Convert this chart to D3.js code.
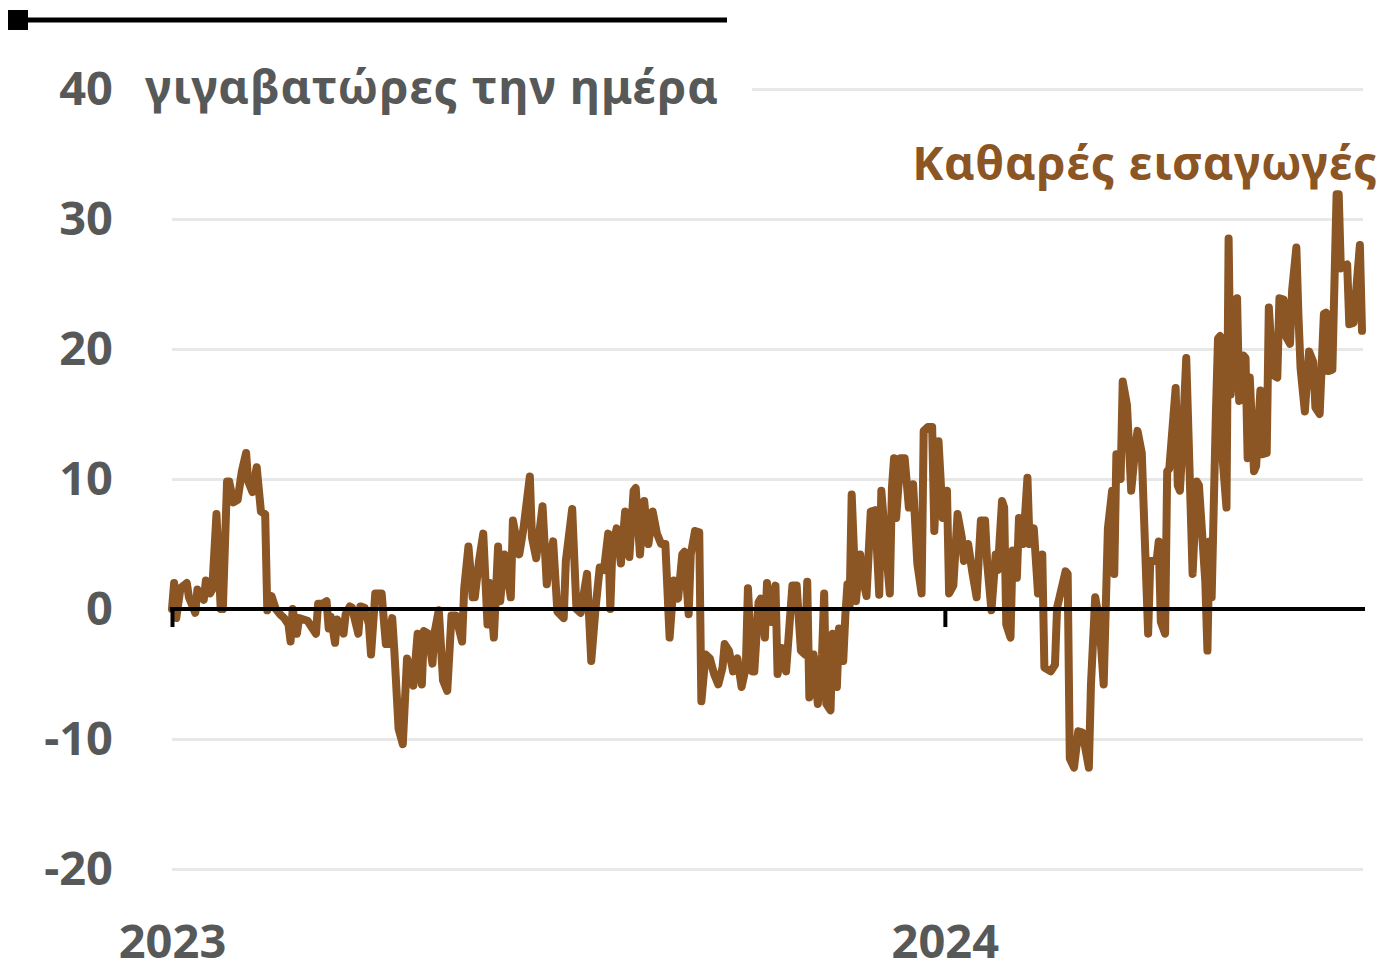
<!DOCTYPE html>
<html>
<head>
<meta charset="utf-8">
<script src="https://cdn.jsdelivr.net/npm/d3@7"></script>
<style>
  body { margin: 0; background: #fff; }
  svg text { font-family: "Noto Sans", "DejaVu Sans", sans-serif; font-weight: 700; }
</style>
</head>
<body>
<div id="chart"></div>
<script>
// net imports, GWh per day, days counted from 1 Jan 2023
var days = [
  0,1,2,4,7,8,11,12,15,16,18,19,21,23,24,
  26,27,29,31,33,35,36,38,40,42,44,45,47,49,51,
  53,55,56,57,59,60,64,68,69,71,73,74,75,77,78,
  81,82,84,85,88,89,91,93,94,96,97,99,101,102,104,
  105,107,109,111,112,114,116,118,119,121,123,124,126,128,130,
  132,134,137,138,140,142,143,145,147,149,150,152,154,155,157,
  160,161,164,166,169,170,172,175,177,178,180,182,185,186,189,
  191,193,196,198,200,202,204,206,207,208,210,212,214,216,218,
  219,221,223,225,227,229,231,233,235,237,239,241,242,244,245,
  247,249,250,252,254,256,258,260,261,263,265,267,269,271,272,
  274,275,277,278,280,281,283,285,286,288,290,293,295,297,299,
  300,301,303,305,307,308,309,311,312,314,315,317,318,319,320,
  321,323,325,326,328,330,332,334,335,337,339,340,341,342,344,
  346,348,350,352,354,355,357,359,360,362,364,366,367,369,371,
  373,374,376,378,380,382,384,385,387,389,390,392,393,394,396,
  397,399,400,402,404,405,407,409,411,412,415,417,418,419,422,
  423,424,426,428,430,433,434,436,438,440,442,444,445,446,448,
  449,451,453,455,456,458,459,461,462,465,466,467,469,470,471,
  474,475,476,477,479,482,484,485,488,489,490,491,492,493,494,
  495,496,498,499,500,502,503,504,506,507,508,509,511,512,514,
  515,517,518,520,522,523,525,526,528,529,531,532,533,535,537,
  539,540,542,544,545,546,548,550,551,552,555,556,558,561,562
];
var netImports = [
  0,2.0,-0.7,1.6,2.0,0.9,-0.3,1.5,0.7,2.2,1.2,1.5,7.3,0,0,
  9.8,9.8,8.2,8.4,10.6,12,9.8,9,10.9,7.5,7.3,-0.1,1.0,0,-0.4,
  -0.7,-1.2,-2.5,0,-1.9,-0.7,-0.9,-1.9,0.4,0.4,0.6,-1.5,-0.6,-2.6,-0.8,
  -1.9,-0.4,0.2,0.1,-1.9,0.2,0.1,-1.2,-3.5,1.2,1.2,1.2,-2.7,-2.7,-0.7,
  -3.2,-9.2,-10.4,-3.8,-4.4,-5.9,-1.9,-5.8,-1.7,-1.9,-4.2,-1.8,-0.1,-5.5,-6.3,
  -0.5,-0.5,-2.5,1.6,4.8,0.9,0.9,3.7,5.8,-1.2,2.0,-2.2,4.8,0.6,4.2,
  0.9,6.8,4.2,6.2,10.2,5.5,3.9,7.9,1.9,3.5,5.2,-0.2,-0.7,3.7,7.7,
  0,-0.3,2.7,-4,0,3.2,3.0,5.8,0,4.8,6.2,3.5,7.5,4.0,9.1,
  9.3,4.2,8.3,5.0,7.5,5.8,5,5,-2.2,2.2,0.8,4.2,4.4,-0.4,4.2,
  6,5.9,-7.1,-3.5,-3.8,-5,-5.8,-4.5,-2.7,-3.2,-4.8,-3.8,-6,-4.5,1.6,
  -4.8,-4.8,0.5,0.8,-2.2,2,-1,1.8,-5,-3,-4.8,1.8,1.8,-3.2,-3.5,
  2.1,-6.8,-3.5,-7.3,-3.5,1.2,-7.3,-7.8,-1.9,-6,-1.5,-4,-0.5,1.9,0.2,
  8.8,0.6,4.2,2.5,1.0,7.5,7.6,1.1,9.1,5,1.2,9.3,11.6,7,11.6,
  11.6,7.8,9.6,3.5,1.2,13.7,14,14,6,12.9,7,9.1,1.2,1.8,7.3,
  5.5,3.7,5,2.8,0.9,6.8,6.8,3.5,-0.1,4.2,3,8.3,7.8,-1.2,-2.2,
  4.5,2.4,7,5,10.1,5,6.2,1.2,4.2,-4.5,-4.8,-4.3,0.1,0.8,2.9,
  2.7,-11.5,-12.2,-9.4,-9.5,-12.2,-5.8,0.9,-1,-5.8,6.2,9.1,2.7,11.9,10,
  17.5,15.7,9.1,12.5,13.7,12,7.3,-1.9,3.7,3.7,5.2,-1,-1.9,10.6,10.8,
  17,9.5,9.1,12,19.3,2.7,9.8,9.5,2.1,-3.2,5.2,0.9,8,15,20.8,
  21,11.9,7.8,28.5,16.5,22,23.9,16,19.5,19.3,11.6,17.8,10.6,11,16.8,
  11.9,12,23.2,18,17.8,23.9,23.8,21,20.4,24.5,27.8,22.5,18.5,15.2,19.8,
  19,15.5,15,22.7,22.8,18.3,18.4,31.9,31.9,26.2,26.5,21.9,22,28,21.4
];
var yTicks = [-20, -10, 0, 10, 20, 30, 40];
var yearTicks = [new Date(2023, 0, 1), new Date(2024, 0, 1)];
var unitLabel = "γιγαβατώρες την ημέρα";
var seriesLabel = "Καθαρές εισαγωγές";

(function() {
  var W = 1386, H = 963;
  var lineColor = "#8b5524", textColor = "#575959";
  var fontSize = 47;
  var start = new Date(2023, 0, 1);
  var data = days.map(function(d, i) {
    return { date: d3.timeDay.offset(start, d), value: netImports[i] };
  });

  var mLeft = 172, mRight = 1362, mTop = 89, mBottom = 869;

  var x = d3.scaleTime()
    .domain([start, data[data.length - 1].date])
    .range([mLeft, mRight]);
  var y = d3.scaleLinear().domain([-20, 40]).range([mBottom, mTop]);

  var svg = d3.select("#chart").append("svg")
    .attr("width", W)
    .attr("height", H);

  // top rule with square marker
  svg.append("line")
    .attr("x1", 8).attr("x2", 727).attr("y1", 20).attr("y2", 20)
    .attr("stroke", "#000").attr("stroke-width", 5);
  svg.append("rect")
    .attr("x", 8).attr("y", 10).attr("width", 20).attr("height", 20)
    .attr("fill", "#000");

  // gridlines + y labels (plain hyphen for negatives, like the original)
  var yAxis = svg.append("g")
    .attr("transform", "translate(" + mLeft + ",0)")
    .call(d3.axisLeft(y).tickValues(yTicks)
      .tickFormat(function(d) { return String(d); })
      .tickSize(-(mRight + 1 - mLeft)).tickPadding(59));
  yAxis.select(".domain").remove();
  yAxis.selectAll(".tick line")
    .attr("stroke", "#e8e8e8").attr("stroke-width", 3)
    .attr("x1", function(d) { return d === 40 ? 580 : 0; });
  yAxis.selectAll(".tick text")
    .attr("fill", textColor).attr("font-size", fontSize).attr("dy", "0.33em");
  yAxis.selectAll(".tick").filter(function(d) { return d === 0; }).select("line").remove();

  var unit = svg.append("text")
    .attr("x", 145).attr("y", y(40)).attr("dy", "0.31em")
    .attr("fill", textColor).attr("font-size", fontSize)
    .text(unitLabel);
  // reference font runs a bit wider; stretch letter spacing to match
  var uw = unit.node().getComputedTextLength();
  unit.attr("letter-spacing", (573 - uw) / (unitLabel.length - 1));

  // the line
  var line = d3.line()
    .x(function(d) { return x(d.date); })
    .y(function(d) { return y(d.value); });

  svg.append("path")
    .datum(data)
    .attr("fill", "none")
    .attr("stroke", lineColor)
    .attr("stroke-width", 8)
    .attr("stroke-linejoin", "round")
    .attr("stroke-linecap", "round")
    .attr("d", line);

  // zero line + year ticks
  var xAxis = svg.append("g")
    .attr("transform", "translate(0," + y(0) + ")")
    .call(d3.axisBottom(x).tickValues(yearTicks).tickSize(18).tickSizeOuter(0)
      .tickFormat(d3.timeFormat("%Y")));
  xAxis.select(".domain")
    .attr("stroke", "#000").attr("stroke-width", 4)
    .attr("d", "M" + (mLeft - 2) + ",0H" + (mRight + 3));
  xAxis.selectAll(".tick line").attr("stroke", "#000").attr("stroke-width", 4);
  xAxis.selectAll(".tick text")
    .attr("fill", textColor).attr("font-size", fontSize)
    .attr("y", mBottom - y(0) + 89).attr("dy", 0);

  // series label
  var lab = svg.append("text")
    .attr("x", 1378).attr("y", 180)
    .attr("text-anchor", "end")
    .attr("fill", lineColor).attr("font-size", fontSize)
    .text(seriesLabel);
  var lw = lab.node().getComputedTextLength();
  lab.attr("letter-spacing", (465 - lw) / (seriesLabel.length - 1));
})();
</script>
</body>
</html>
